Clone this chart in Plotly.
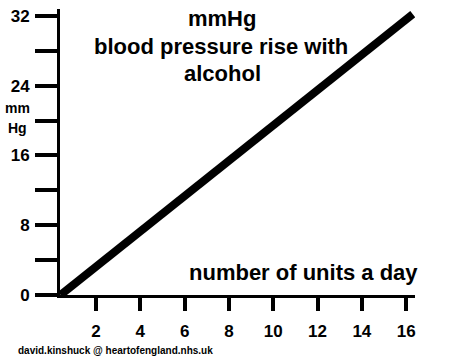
import plotly.graph_objects as go

# Data
units_per_day = [0.4, 16.3]
bp_rise_mmhg = [0.0, 32.2]

x_tick_values = [2, 4, 6, 8, 10, 12, 14, 16]
x_tick_labels = ["2", "4", "6", "8", "10", "12", "14", "16"]
y_tick_values = [0, 4, 8, 12, 16, 20, 24, 28, 32]
y_tick_labels = ["0", "", "8", "", "16", "", "24", "", "32"]

FONT = "Liberation Sans, Arial, sans-serif"

fig = go.Figure()
fig.add_trace(go.Scatter(
    x=units_per_day, y=bp_rise_mmhg, mode="lines",
    line=dict(color="black", width=8), hoverinfo="skip", showlegend=False,
))

# plot area in window pixels: x 60..415, y 7..295
L, R, T, B = 60, 415, 7, 295
W, H = 474, 358

def px(xp):
    return (xp - L) / (R - L)

def py(yp):
    return (B - yp) / (B - T)

annotations = [
    dict(text="mmHg", x=px(222), y=py(17), size=22),
    dict(text="blood pressure rise with", x=px(221), y=py(45), size=22),
    dict(text="alcohol", x=px(222), y=py(72), size=22),
    dict(text="number of units a day", x=px(303), y=py(272), size=22),
    dict(text="mm", x=px(17), y=py(107), size=14),
    dict(text="Hg", x=px(17), y=py(127), size=14),
]
fig.update_layout(annotations=[
    dict(text=a["text"], x=a["x"], y=a["y"], xref="paper", yref="paper",
         xanchor="center", yanchor="middle", showarrow=False,
         font=dict(family=FONT, size=a["size"], color="black", weight="bold"))
    for a in annotations
] + [
    dict(text="david.kinshuck @ heartofengland.nhs.uk", x=px(16), y=py(351),
         xref="paper", yref="paper", xanchor="left", yanchor="middle",
         showarrow=False,
         font=dict(family=FONT, size=10, color="black", weight="bold")),
])

fig.update_layout(
    width=W, height=H,
    margin=dict(l=L, r=W - R, t=T, b=H - B, pad=0),
    paper_bgcolor="white", plot_bgcolor="white",
    xaxis=dict(
        range=[0.375, 16.4], showgrid=False, zeroline=False,
        showline=True, linecolor="black", linewidth=3,
        ticks="outside", ticklen=13, tickwidth=4, tickcolor="black",
        tickvals=x_tick_values, ticktext=x_tick_labels,
        tickfont=dict(family=FONT, size=17, color="black", weight="bold"),
        ticklabelstandoff=6,
    ),
    yaxis=dict(
        range=[0, 32.8], showgrid=False, zeroline=False,
        showline=True, linecolor="black", linewidth=3,
        ticks="outside", ticklen=22, tickwidth=4, tickcolor="black",
        tickvals=y_tick_values, ticktext=y_tick_labels,
        tickfont=dict(family=FONT, size=17, color="black", weight="bold"),
        ticklabelstandoff=2,
    ),
)

# remove the default 8px page margin so the figure fills the window exactly
fig.write_html(
    "out.html",
    config={"displayModeBar": False},
    post_script="document.body.style.margin='0';document.body.style.overflow='hidden';",
)
